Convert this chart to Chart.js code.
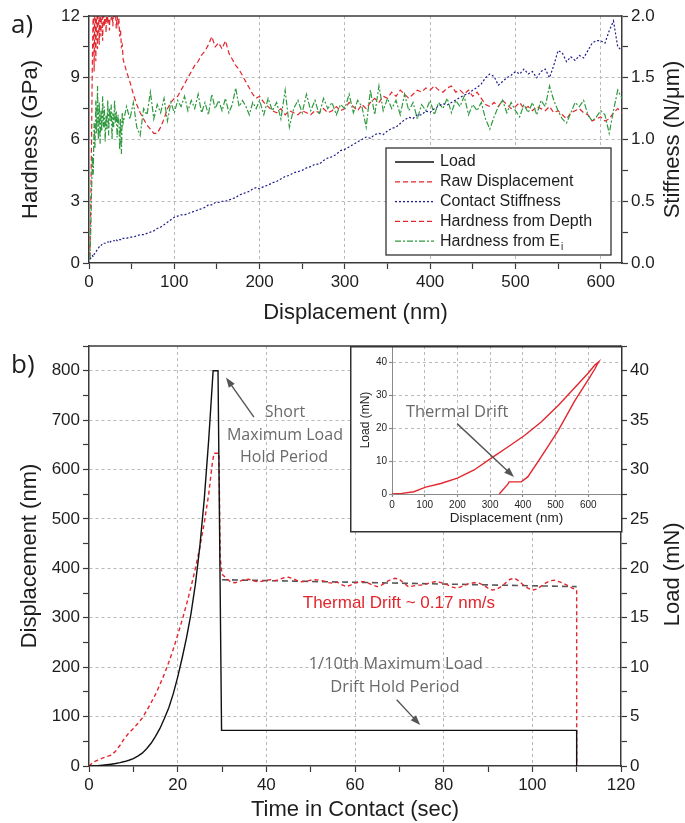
<!DOCTYPE html>
<html>
<head>
<meta charset="utf-8">
<script src="https://cdn.jsdelivr.net/npm/chart.js@4.4.1/dist/chart.umd.min.js"></script>
<style>
  body { margin: 0; background: #fff; }
  #wrap { position: relative; width: 685px; height: 823px; background: #fff; overflow: hidden; }
  canvas { position: absolute; }
</style>
</head>
<body>
<div id="wrap">
  <canvas id="chartA" width="685" height="330" style="left:0;top:0"></canvas>
  <canvas id="chartB" width="685" height="493" style="left:0;top:330px"></canvas>
  <canvas id="chartInset" width="273" height="197" style="left:350px;top:336px"></canvas>
</div>
<script>
// panel a: hardness (GPa) and contact stiffness (N/um) vs displacement (nm)
const depthNm = [1,2,3,4,5,6,7,8,9,10,11,12,13,14,15,16,17,18,19,20,21,22,23,24,25,26,27,28,29,30,31,32,33,34,35,36,37,38,39,40,
  44,48,52,56,60,64,68,72,76,80,84,88,92,96,100,104,108,112,116,120,124,128,132,136,140,144,148,152,156,160,164,168,172,176,180,184,188,192,196,200,
  205,210,215,220,225,230,235,240,245,250,255,260,265,270,275,280,285,290,295,300,305,310,315,320,325,330,335,340,345,350,
  355,360,365,370,375,380,385,390,395,400,405,410,415,420,425,430,435,440,445,450,455,460,465,470,475,480,485,490,495,500,
  505,510,515,520,525,530,535,540,545,550,555,560,565,570,575,580,585,590,595,600,605,610,615,620,625];
const hardDepth = [0.3,2.5,6.0,10.0,12.5,9.3,13.0,9.8,12.8,10.4,13.0,10.6,12.6,11.0,13.0,10.8,12.8,11.5,12.9,11.2,12.8,11.6,12.5,11.3,12.7,11.8,12.4,11.5,12.6,11.9,12.2,11.4,12.0,11.6,11.9,11.0,11.3,10.5,10.6,9.9,
  9.3,8.8,8.2,7.7,7.3,7.0,6.7,6.5,6.3,6.3,6.6,7.0,7.5,7.8,8.0,8.1,8.4,8.7,9.0,9.3,9.6,9.8,10.1,10.3,10.6,11.0,10.5,10.7,10.4,10.8,10.2,9.9,9.6,9.4,9.1,8.8,8.5,8.2,8.0,8.1,
  7.8,7.6,7.4,7.3,7.5,7.2,7.4,7.3,7.2,7.4,7.3,7.2,7.4,7.3,7.5,7.3,7.4,7.6,7.4,7.5,7.8,7.6,7.4,7.7,7.5,7.8,8.0,7.8,8.1,8.0,
  8.3,8.1,8.4,8.2,8.0,8.2,8.4,8.3,8.5,8.4,8.6,8.4,8.3,8.5,8.6,8.3,8.4,8.2,8.4,8.1,8.3,8.0,7.7,7.6,7.8,7.6,7.9,7.7,7.5,7.6,
  7.8,7.5,7.6,7.4,7.6,7.5,7.4,7.6,7.3,7.4,7.2,7.0,7.3,7.4,7.5,7.3,7.2,6.9,7.0,7.1,6.9,7.0,7.3,7.5,7.3];
const hardEi = [0.2,1.5,3.5,5.2,4.3,6.8,5.6,7.9,6.3,8.6,6.0,7.8,5.8,7.4,6.4,8.1,6.6,7.6,5.9,7.2,6.5,7.9,6.2,7.5,6.9,7.7,6.0,7.3,6.6,7.9,6.8,7.4,6.1,7.2,6.9,5.5,7.0,5.3,7.3,6.8,
  7.6,7.0,7.8,6.6,6.2,7.5,7.2,8.3,7.0,7.7,7.3,8.0,6.9,7.8,7.3,7.9,7.6,8.1,7.4,7.9,7.5,8.2,7.3,7.8,7.2,8.2,7.5,7.9,7.4,8.0,7.3,7.7,8.5,7.6,7.9,7.6,7.2,7.8,7.5,7.9,
  7.2,8.0,7.4,7.8,7.0,8.4,6.6,7.5,7.9,7.3,8.2,7.4,7.9,7.2,8.0,7.5,7.8,7.2,7.7,7.5,8.2,7.3,7.9,7.6,6.6,8.4,7.2,8.6,7.4,8.0,
  7.5,7.9,7.2,8.2,7.4,7.8,7.0,7.7,7.4,7.9,7.2,7.8,7.5,8.0,7.3,7.9,7.6,8.1,7.2,7.7,7.4,7.8,7.0,6.5,7.1,7.6,7.9,7.3,7.8,7.4,
  7.1,7.7,7.3,7.8,7.2,7.9,7.6,8.6,7.9,7.4,7.0,6.8,7.3,7.8,7.6,7.9,7.2,6.9,7.1,7.4,7.2,6.3,7.4,8.4,8.0];
const stiffness = [0.03,0.04,0.05,0.06,0.05,0.07,0.08,0.09,0.10,0.11,0.12,0.13,0.13,0.14,0.15,0.15,0.16,0.16,0.16,0.17,0.17,0.17,0.17,0.18,0.17,0.18,0.18,0.18,0.18,0.18,0.18,0.19,0.18,0.19,0.19,0.19,0.19,0.19,0.20,0.20,
  0.20,0.21,0.21,0.22,0.23,0.23,0.24,0.25,0.26,0.28,0.29,0.31,0.33,0.35,0.37,0.38,0.39,0.39,0.40,0.41,0.42,0.43,0.44,0.45,0.47,0.47,0.49,0.49,0.50,0.50,0.51,0.52,0.53,0.55,0.56,0.57,0.58,0.60,0.61,0.60,
  0.62,0.63,0.65,0.66,0.68,0.70,0.71,0.73,0.74,0.75,0.77,0.78,0.80,0.80,0.83,0.85,0.86,0.88,0.91,0.92,0.94,0.96,0.98,1.00,1.02,1.01,1.04,1.05,1.04,1.07,
  1.09,1.10,1.13,1.16,1.18,1.17,1.20,1.20,1.23,1.22,1.25,1.27,1.29,1.28,1.30,1.32,1.34,1.36,1.37,1.40,1.42,1.45,1.50,1.53,1.51,1.44,1.47,1.50,1.52,1.55,
  1.53,1.57,1.53,1.55,1.50,1.55,1.57,1.50,1.60,1.72,1.70,1.63,1.67,1.64,1.68,1.66,1.72,1.78,1.80,1.80,1.78,1.88,1.96,1.75,1.72];

// panel b: load (mN) and raw displacement (nm) vs time in contact (s)
const timeLoad = [0,1,2,3,4,5,6,7,8,9,10,11,12,13,14,15,16,17,18,19,20,21,22,23,24,25,26,27,28,29.1,29.9,110,110];
const loadMN = [0,0.01,0.03,0.07,0.12,0.18,0.25,0.34,0.45,0.58,0.75,1.0,1.3,1.75,2.3,3.0,3.8,4.8,5.9,7.3,9.0,10.9,13.0,15.4,18.4,22.2,27.0,33.0,40,40,3.6,3.6,0];
const timeDisp = [0,1,2,3,4,5,6,7,8,9,10,11,12,13,14,15,16,17,18,19,20,21,22,23,24,25,26,27,27.8,28.2,29.3,29.6,30,
  31,32,33,34,35,36,37,38,39,40,41,42,43,44,45,46,47,48,49,50,51,52,53,54,55,56,57,58,59,60,
  61,62,63,64,65,66,67,68,69,70,71,72,73,74,75,76,77,78,79,80,81,82,83,84,85,86,87,88,89,90,
  91,92,93,94,95,96,97,98,99,100,101,102,103,104,105,106,107,108,109,110,110];
const rawDisp = [0,8,12,16,19,22,30,42,56,67,76,86,97,112,128,145,165,186,210,236,265,295,327,362,400,443,492,550,612,633,633,420,388,
  380,372,371,374,377,378,375,373,374,376,377,375,378,381,382,379,375,373,374,376,377,376,374,371,370,372,367,363,366,370,
  373,373,370,366,363,366,372,377,380,378,370,363,364,366,366,368,371,373,372,370,366,362,360,363,367,370,371,370,366,360,
  356,358,363,371,378,380,374,366,360,356,358,364,370,375,376,373,370,365,360,356,0];
const driftTime = [30, 110];
const driftFit = [377, 363];

// inset: load (mN) vs displacement (nm), loading then unloading
const insetDisp = [0,30,67,85,103,149,200,251,308,354,405,456,508,559,600,620,632,625,620,600,559,508,456,415,395,358,354,328];
const insetLoad = [0,0.2,0.7,1.4,2.1,3.2,4.8,7.3,11.2,14.3,17.8,21.9,26.9,32.4,36.8,39.2,40.2,39.0,38.0,34.8,28.4,19.3,11.3,5.2,3.7,3.7,3.0,0];

const INK = '#1e1e1e';
const AXIS = '#3a3a3a';
const GRID = '#b9b9b9';
const NOTE = '#6a6a6a';
const RED = '#e3262d';
const BLUE = '#1d1d8c';
const GREEN = '#2f9a3f';
const SANS = '"Liberation Sans", Arial, sans-serif';
const HUMAN = '"Open Sans", "Noto Sans", sans-serif';

Chart.defaults.font.family = SANS;
Chart.defaults.color = INK;
Chart.defaults.animation = false;

function pts(xs, ys) {
  return xs.map((x, i) => ({x: x, y: ys[i]}));
}
function isMajor(v, step) {
  return Math.abs(v / step - Math.round(v / step)) < 1e-6;
}

function linAxis(o) {
  const labelMax = o.labelMax === undefined ? Infinity : o.labelMax;
  return {
    type: 'linear', position: o.pos, min: o.min, max: o.max,
    afterFit: s => { if (s.isHorizontal()) s.height = o.size; else s.width = o.size; },
    ticks: {
      stepSize: o.step, includeBounds: false, autoSkip: false, maxRotation: 0, minRotation: 0,
      padding: o.pad, color: INK, font: {size: o.fontSize},
      callback: v => (isMajor(v, o.major) && v <= labelMax) ? (o.digits ? v.toFixed(o.digits) : String(v)) : ''
    },
    grid: {
      drawOnChartArea: o.grid,
      color: c => (c.tick && isMajor(c.tick.value, o.major) && c.tick.value > o.min && c.tick.value < o.max) ? GRID : 'rgba(0,0,0,0)',
      lineWidth: 1, tickColor: o.axisColor, tickWidth: 1.2, tickLength: o.tickLen
    },
    border: {display: true, color: o.axisColor, width: o.axisWidth, dash: [3, 3]},
    title: {display: !!o.title, text: o.title || '', color: INK, font: {size: o.titleSize}, padding: o.titlePad}
  };
}

function arrow(ctx, x1, y1, x2, y2, color) {
  const ang = Math.atan2(y2 - y1, x2 - x1), head = 10, half = 3.6;
  const c = Math.cos(ang), s = Math.sin(ang);
  ctx.save();
  ctx.setLineDash([]);
  ctx.strokeStyle = color; ctx.fillStyle = color; ctx.lineWidth = 1.4;
  ctx.beginPath(); ctx.moveTo(x1, y1); ctx.lineTo(x2 - c * head * 0.8, y2 - s * head * 0.8); ctx.stroke();
  ctx.beginPath();
  ctx.moveTo(x2, y2);
  ctx.lineTo(x2 - head * c + half * s, y2 - head * s - half * c);
  ctx.lineTo(x2 - head * c - half * s, y2 - head * s + half * c);
  ctx.closePath(); ctx.fill();
  ctx.restore();
}

function topLine(chart) {
  const {ctx, chartArea: a} = chart;
  ctx.save();
  ctx.strokeStyle = AXIS; ctx.lineWidth = 1.5;
  ctx.beginPath(); ctx.moveTo(a.left, a.top); ctx.lineTo(a.right, a.top); ctx.stroke();
  ctx.restore();
}

// right-hand axis titles read bottom to top, as in the original figure
function rightTitle(chart, text, x, y) {
  const {ctx} = chart;
  ctx.save();
  ctx.translate(x, y);
  ctx.rotate(-Math.PI / 2);
  ctx.fillStyle = INK; ctx.font = '22px ' + SANS;
  ctx.textAlign = 'center'; ctx.textBaseline = 'middle';
  ctx.fillText(text, 0, 0);
  ctx.restore();
}

// legend box of panel a, built from the dataset styles
const legendA = {
  id: 'legendA',
  afterDraw(chart) {
    const {ctx, chartArea: a} = chart;
    topLine(chart);
    rightTitle(chart, 'Stiffness (N/\u03bcm)', 673, (a.top + a.bottom) / 2);
    ctx.save();
    ctx.fillStyle = INK; ctx.font = '26px ' + HUMAN; ctx.textBaseline = 'alphabetic';
    ctx.fillText('a)', 11, 33);

    const bx = a.right - 236, by = a.top + 132, bw = 225, bh = 107;
    ctx.fillStyle = '#fff'; ctx.fillRect(bx, by, bw, bh);
    ctx.strokeStyle = '#333'; ctx.lineWidth = 1.3; ctx.strokeRect(bx, by, bw, bh);
    ctx.textBaseline = 'middle';
    chart.data.datasets.forEach((ds, i) => {
      const y = by + 14 + i * 19.8;
      ctx.strokeStyle = ds.borderColor; ctx.lineWidth = 1.3;
      ctx.setLineDash(ds.borderDash || []);
      ctx.beginPath(); ctx.moveTo(bx + 9, y); ctx.lineTo(bx + 48, y); ctx.stroke();
      ctx.setLineDash([]);
      const parts = ds.label.split('_');
      ctx.fillStyle = INK; ctx.font = '16px ' + SANS;
      ctx.fillText(parts[0], bx + 54, y);
      if (parts[1]) {
        const w = ctx.measureText(parts[0]).width;
        ctx.font = '10px ' + SANS;
        ctx.fillText(parts[1], bx + 55 + w, y + 6);
      }
    });
    ctx.restore();
  }
};

const lineStyle = {pointRadius: 0, borderWidth: 1.2, fill: false, tension: 0};

new Chart(document.getElementById('chartA'), {
  type: 'line',
  data: {
    datasets: [
      {...lineStyle, label: 'Load', data: [], yAxisID: 'yL', borderColor: '#111', borderDash: []},
      {...lineStyle, label: 'Raw Displacement', data: [], yAxisID: 'yL', borderColor: RED, borderDash: [5, 3]},
      {...lineStyle, label: 'Contact Stiffness', data: pts(depthNm, stiffness), yAxisID: 'yR', borderColor: BLUE, borderDash: [2, 2], order: 0},
      {...lineStyle, label: 'Hardness from Depth', data: pts(depthNm, hardDepth), yAxisID: 'yL', borderColor: RED, borderDash: [5, 3], order: 2},
      {...lineStyle, label: 'Hardness from E_i', data: pts(depthNm, hardEi), yAxisID: 'yL', borderColor: GREEN, borderDash: [6, 2, 2, 2], order: 1}
    ]
  },
  options: {
    responsive: false,
    devicePixelRatio: 1,
    layout: {padding: {top: 16, left: 0, right: 0, bottom: 0}},
    plugins: {legend: {display: false}, tooltip: {enabled: false}},
    scales: {
      x: linAxis({pos: 'bottom', min: 0, max: 625, step: 50, major: 100, size: 67, pad: 3, fontSize: 17,
        grid: true, axisColor: AXIS, axisWidth: 1.5, tickLen: 6, title: 'Displacement (nm)', titleSize: 22, titlePad: {top: 0, bottom: 4}}),
      yL: linAxis({pos: 'left', min: 0, max: 12, step: 1.5, major: 3, size: 89, pad: 3, fontSize: 17,
        grid: true, axisColor: AXIS, axisWidth: 1.5, tickLen: 6, title: 'Hardness (GPa)', titleSize: 22, titlePad: {top: 18, bottom: 0}}),
      yR: linAxis({pos: 'right', min: 0, max: 2, step: 0.25, major: 0.5, digits: 1, size: 63, pad: 3, fontSize: 17,
        grid: false, axisColor: AXIS, axisWidth: 1.5, tickLen: 6})
    }
  },
  plugins: [legendA]
});

// text notes and arrows of panel b, placed in data units
const notesB = {
  id: 'notesB',
  afterDraw(chart) {
    const {ctx, scales} = chart;
    const X = v => scales.x.getPixelForValue(v);
    const Y = v => scales.yL.getPixelForValue(v);
    topLine(chart);
    rightTitle(chart, 'Load (mN)', 673, Y(388));
    ctx.save();
    ctx.fillStyle = INK; ctx.font = '26px ' + HUMAN; ctx.textBaseline = 'alphabetic'; ctx.textAlign = 'left';
    ctx.fillText('b)', 11, 43);

    ctx.textAlign = 'center'; ctx.textBaseline = 'middle';
    ctx.fillStyle = NOTE; ctx.font = '16px ' + HUMAN;
    ctx.fillText('Short', X(44.2), Y(715));
    ctx.fillText('Maximum Load', X(44.2), Y(668));
    ctx.fillText('Hold Period', X(44.0), Y(625));
    ctx.font = '16.5px ' + HUMAN;
    ctx.fillText('1/10th Maximum Load', X(69.2), Y(206));
    ctx.fillText('Drift Hold Period', X(69.0), Y(160));
    ctx.fillStyle = RED; ctx.font = '17px ' + SANS;
    ctx.fillText('Thermal Drift ~ 0.17 nm/s', X(69.9), Y(329));
    ctx.restore();

    arrow(ctx, X(37.2), Y(706), X(30.9), Y(786), '#555');
    arrow(ctx, X(69.4), Y(134), X(74.7), Y(83), '#555');
  }
};

new Chart(document.getElementById('chartB'), {
  type: 'line',
  data: {
    datasets: [
      {...lineStyle, label: 'Load', data: pts(timeLoad, loadMN), yAxisID: 'yR', borderColor: '#111', borderWidth: 1.4},
      {...lineStyle, label: 'Raw Displacement', data: pts(timeDisp, rawDisp), yAxisID: 'yL', borderColor: RED, borderWidth: 1.4, borderDash: [4, 3]},
      {...lineStyle, label: 'Drift fit', data: pts(driftTime, driftFit), yAxisID: 'yL', borderColor: '#575757', borderWidth: 1.6, borderDash: [6, 4]}
    ]
  },
  options: {
    responsive: false,
    devicePixelRatio: 1,
    layout: {padding: {top: 16, left: 0, right: 0, bottom: 0}},
    plugins: {legend: {display: false}, tooltip: {enabled: false}},
    scales: {
      x: linAxis({pos: 'bottom', min: 0, max: 120, step: 10, major: 20, size: 57, pad: 3, fontSize: 17,
        grid: true, axisColor: AXIS, axisWidth: 1.5, tickLen: 6, title: 'Time in Contact (sec)', titleSize: 22, titlePad: {top: 0, bottom: 0}}),
      yL: linAxis({pos: 'left', min: 0, max: 850, step: 50, major: 100, size: 89, pad: 3, fontSize: 17,
        grid: true, axisColor: AXIS, axisWidth: 1.5, tickLen: 6, title: 'Displacement (nm)', titleSize: 22, titlePad: {top: 17, bottom: 0}}),
      yR: linAxis({pos: 'right', min: 0, max: 42.5, step: 2.5, major: 5, size: 64, pad: 3, fontSize: 17,
        grid: false, axisColor: AXIS, axisWidth: 1.5, tickLen: 6})
    }
  },
  plugins: [notesB]
});

// inset frame, white backing and the thermal drift note
const insetFrame = {
  id: 'insetFrame',
  beforeDraw(chart) {
    const {ctx} = chart;
    ctx.save(); ctx.fillStyle = '#fff'; ctx.fillRect(0, 10, 272, 186); ctx.restore();
  },
  afterDraw(chart) {
    const {ctx, scales} = chart;
    const X = v => scales.x.getPixelForValue(v);
    const Y = v => scales.y.getPixelForValue(v);
    ctx.save();
    ctx.strokeStyle = '#333'; ctx.lineWidth = 1.5;
    ctx.strokeRect(0.75, 10.75, 271, 185);
    ctx.fillStyle = NOTE; ctx.font = '16.5px ' + HUMAN; ctx.textAlign = 'center'; ctx.textBaseline = 'middle';
    ctx.fillText('Thermal Drift', X(199), Y(24.9));
    ctx.restore();
    arrow(ctx, X(199), Y(21.4), X(373), Y(5.2), '#555');
  }
};

new Chart(document.getElementById('chartInset'), {
  type: 'line',
  data: {
    datasets: [
      {...lineStyle, label: 'Load vs displacement', data: pts(insetDisp, insetLoad), borderColor: RED, borderWidth: 1.4}
    ]
  },
  options: {
    responsive: false,
    devicePixelRatio: 1,
    layout: {padding: {top: 10, left: 0, right: 2, bottom: 0}},
    plugins: {legend: {display: false}, tooltip: {enabled: false}},
    scales: {
      x: linAxis({pos: 'bottom', min: 0, max: 700, step: 100, major: 100, labelMax: 600, size: 39, pad: 2, fontSize: 10,
        grid: true, axisColor: '#8a8a8a', axisWidth: 1, tickLen: 3, title: 'Displacement (nm)', titleSize: 13.5, titlePad: {top: 0, bottom: 7}}),
      y: linAxis({pos: 'left', min: 0, max: 45, step: 10, major: 10, size: 42, pad: 2, fontSize: 10,
        grid: true, axisColor: '#8a8a8a', axisWidth: 1, tickLen: 3, title: 'Load (mN)', titleSize: 12, titlePad: {top: 8, bottom: 0}})
    }
  },
  plugins: [insetFrame]
});
</script>
</body>
</html>
